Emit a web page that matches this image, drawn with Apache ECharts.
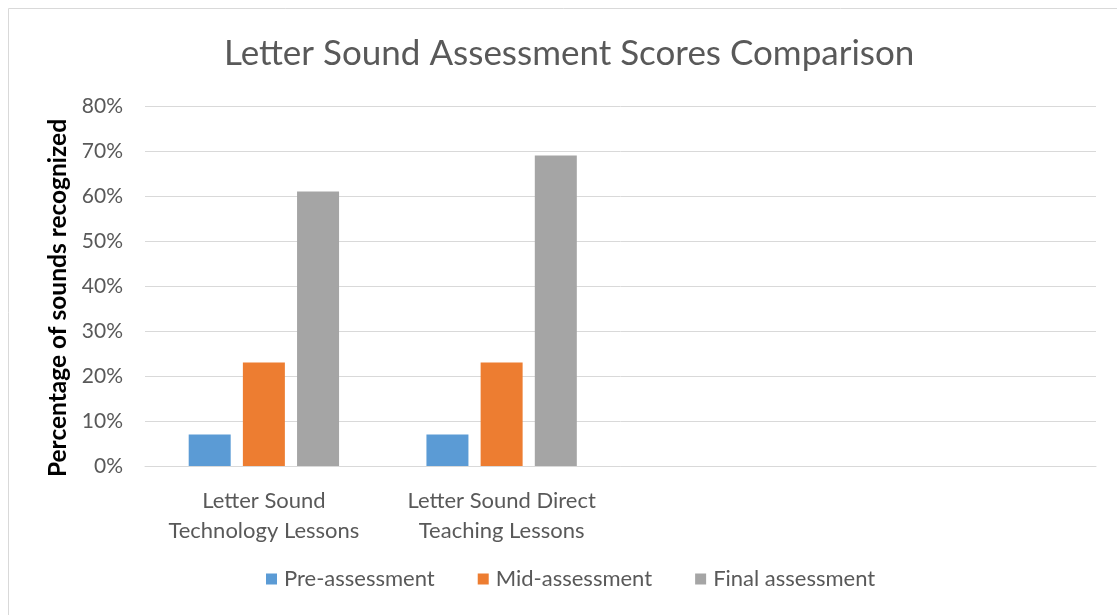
<!DOCTYPE html>
<html>
<head>
<meta charset="utf-8">
<script src="https://cdn.jsdelivr.net/npm/echarts@6/dist/echarts.min.js"></script>
<style>
  html, body { margin: 0; padding: 0; background: #fff; }
  #chart { width: 1117px; height: 615px; }
</style>
</head>
<body>
<div id="chart"></div>
<script>
// categories (last two left empty as in the source workbook)
const categories = ['Letter Sound\nTechnology Lessons', 'Letter Sound Direct\nTeaching Lessons', '', '']
const seriesNames = ['Pre-assessment', 'Mid-assessment', 'Final assessment']
const preValues = [0.07, 0.07, null, null]
const midValues = [0.23, 0.23, null, null]
const finalValues = [0.61, 0.69, null, null]
const colors = ['#5b9bd5', '#ed7d31', '#a5a5a5']

const font = 'Lato'
const textGrey = '#595959'

const chart = echarts.init(document.getElementById('chart'))

const mkSeries = (name, data, i) => ({
    name,
    type: 'bar',
    data,
    barWidth: 42,
    barGap: '29%',
    itemStyle: {color: colors[i]}
})

chart.setOption({
    animation: false,
    textStyle: {fontFamily: font},
    graphic: [{
        type: 'rect',
        shape: {x: 8.5, y: 8.5, width: 1120, height: 620},
        style: {fill: 'none', stroke: '#d9d9d9', lineWidth: 1}
    }],
    title: {
        text: 'Letter Sound Assessment Scores Comparison',
        left: 219,
        top: 31,
        textStyle: {fontFamily: font, fontSize: 35, fontWeight: 'normal', color: textGrey}
    },
    grid: {left: 145, right: 21, top: 106, bottom: 149},
    legend: {
        bottom: 20,
        left: 261,
        itemWidth: 11,
        itemHeight: 11,
        itemGap: 43,
        icon: 'rect',
        textStyle: {fontFamily: font, fontSize: 22, color: textGrey, padding: [0, 0, 0, 2]},
        data: seriesNames
    },
    xAxis: {
        type: 'category',
        data: categories,
        axisTick: {show: false},
        axisLine: {lineStyle: {color: '#d9d9d9', width: 1}},
        axisLabel: {
            fontFamily: font, fontSize: 22, color: textGrey,
            lineHeight: 30, margin: 20, interval: 0
        }
    },
    yAxis: {
        type: 'value',
        min: 0,
        max: 0.8,
        interval: 0.1,
        name: 'Percentage of sounds recognized',
        nameLocation: 'middle',
        nameGap: 73,
        nameTextStyle: {fontFamily: font, fontSize: 24.5, fontWeight: 'bold', color: '#000', padding: [0, 24, 0, 0]},
        axisLine: {show: false},
        axisTick: {show: false},
        splitLine: {lineStyle: {color: '#d9d9d9', width: 1}},
        axisLabel: {
            fontFamily: font, fontSize: 21, color: textGrey, margin: 22,
            formatter: v => Math.round(v * 100) + '%'
        }
    },
    series: [
        mkSeries(seriesNames[0], preValues, 0),
        mkSeries(seriesNames[1], midValues, 1),
        mkSeries(seriesNames[2], finalValues, 2)
    ]
})
</script>
</body>
</html>
